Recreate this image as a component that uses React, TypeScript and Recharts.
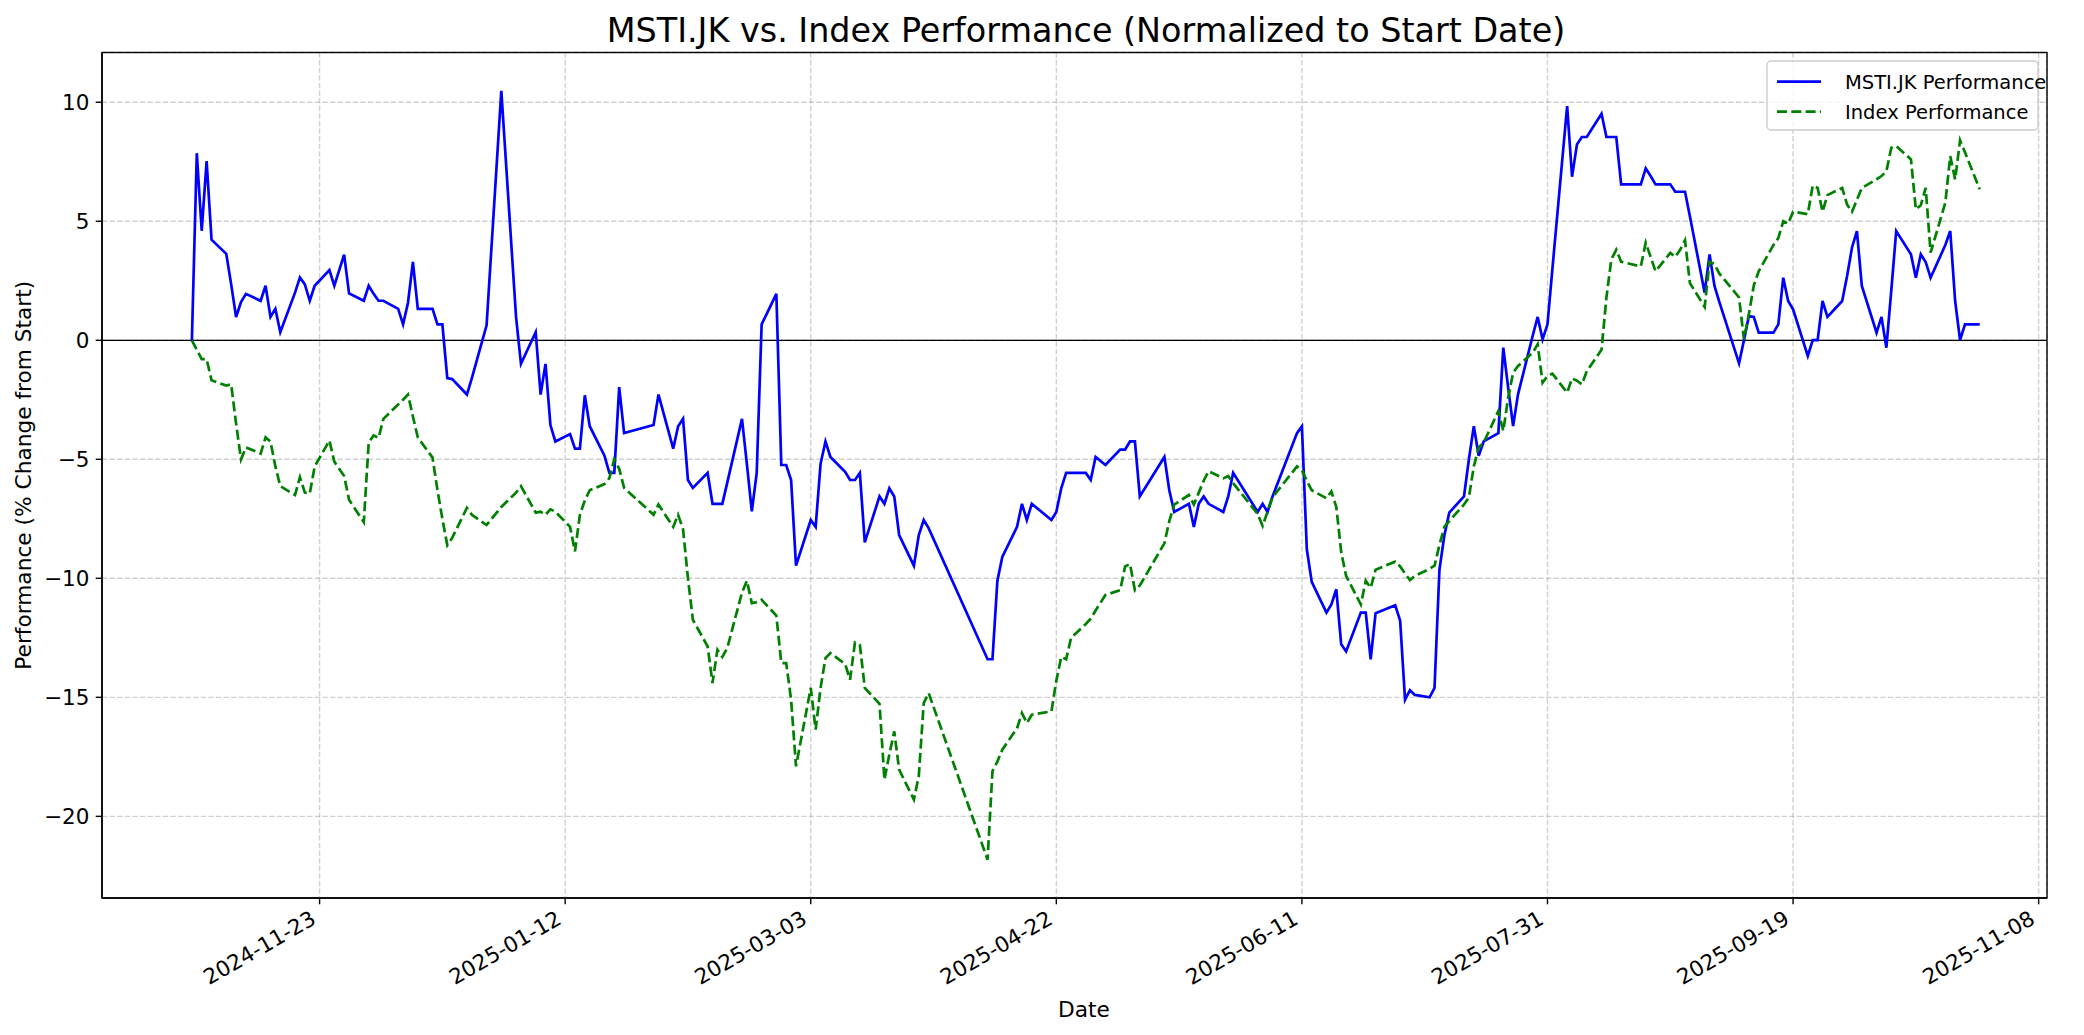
import React from "react";
import {
  LineChart,
  Line,
  XAxis,
  YAxis,
  CartesianGrid,
  ReferenceLine,
} from "recharts";

// trading days (IDX calendar, holidays skipped)
const dates = [
  "2024-10-28", "2024-10-29", "2024-10-30", "2024-10-31",
  "2024-11-01", "2024-11-04", "2024-11-05", "2024-11-06", "2024-11-07", "2024-11-08", "2024-11-11", "2024-11-12", "2024-11-13", "2024-11-14", "2024-11-15", "2024-11-18", "2024-11-19", "2024-11-20", "2024-11-21", "2024-11-22", "2024-11-25", "2024-11-26", "2024-11-28", "2024-11-29",
  "2024-12-02", "2024-12-03", "2024-12-04", "2024-12-05", "2024-12-06", "2024-12-09", "2024-12-10", "2024-12-11", "2024-12-12", "2024-12-13", "2024-12-16", "2024-12-17", "2024-12-18", "2024-12-19", "2024-12-20", "2024-12-23", "2024-12-24", "2024-12-27", "2024-12-30",
  "2025-01-02", "2025-01-03", "2025-01-06", "2025-01-07", "2025-01-08", "2025-01-09", "2025-01-10", "2025-01-13", "2025-01-14", "2025-01-15", "2025-01-16", "2025-01-17", "2025-01-20", "2025-01-21", "2025-01-22", "2025-01-23", "2025-01-24", "2025-01-30", "2025-01-31",
  "2025-02-03", "2025-02-04", "2025-02-05", "2025-02-06", "2025-02-07", "2025-02-10", "2025-02-11", "2025-02-12", "2025-02-13", "2025-02-14", "2025-02-17", "2025-02-18", "2025-02-19", "2025-02-20", "2025-02-21", "2025-02-24", "2025-02-25", "2025-02-26", "2025-02-27", "2025-02-28",
  "2025-03-03", "2025-03-04", "2025-03-05", "2025-03-06", "2025-03-07", "2025-03-10", "2025-03-11", "2025-03-12", "2025-03-13", "2025-03-14", "2025-03-17", "2025-03-18", "2025-03-19", "2025-03-20", "2025-03-21", "2025-03-24", "2025-03-25", "2025-03-26", "2025-03-27",
  "2025-04-08", "2025-04-09", "2025-04-10", "2025-04-11", "2025-04-14", "2025-04-15", "2025-04-16", "2025-04-17", "2025-04-21", "2025-04-22", "2025-04-23", "2025-04-24", "2025-04-25", "2025-04-28", "2025-04-29", "2025-04-30",
  "2025-05-02", "2025-05-05", "2025-05-06", "2025-05-07", "2025-05-08", "2025-05-09", "2025-05-14", "2025-05-15", "2025-05-16", "2025-05-19", "2025-05-20", "2025-05-21", "2025-05-22", "2025-05-23", "2025-05-26", "2025-05-27", "2025-05-28",
  "2025-06-02", "2025-06-03", "2025-06-04", "2025-06-05", "2025-06-10", "2025-06-11", "2025-06-12", "2025-06-13", "2025-06-16", "2025-06-17", "2025-06-18", "2025-06-19", "2025-06-20", "2025-06-23", "2025-06-24", "2025-06-25", "2025-06-26", "2025-06-30",
  "2025-07-01", "2025-07-02", "2025-07-03", "2025-07-04", "2025-07-07", "2025-07-08", "2025-07-09", "2025-07-10", "2025-07-11", "2025-07-14", "2025-07-15", "2025-07-16", "2025-07-17", "2025-07-18", "2025-07-21", "2025-07-22", "2025-07-23", "2025-07-24", "2025-07-25", "2025-07-28", "2025-07-29", "2025-07-30", "2025-07-31",
  "2025-08-01", "2025-08-04", "2025-08-05", "2025-08-06", "2025-08-07", "2025-08-08", "2025-08-11", "2025-08-12", "2025-08-13", "2025-08-14", "2025-08-15", "2025-08-19", "2025-08-20", "2025-08-21", "2025-08-22", "2025-08-25", "2025-08-26", "2025-08-27", "2025-08-28", "2025-08-29",
  "2025-09-01", "2025-09-02", "2025-09-03", "2025-09-04", "2025-09-08", "2025-09-09", "2025-09-10", "2025-09-11", "2025-09-12", "2025-09-15", "2025-09-16", "2025-09-17", "2025-09-18", "2025-09-19", "2025-09-22", "2025-09-23", "2025-09-24", "2025-09-25", "2025-09-26", "2025-09-29", "2025-09-30",
  "2025-10-01", "2025-10-02", "2025-10-03", "2025-10-06", "2025-10-07", "2025-10-08", "2025-10-09", "2025-10-10", "2025-10-13", "2025-10-14", "2025-10-15", "2025-10-16", "2025-10-17", "2025-10-20", "2025-10-21", "2025-10-22", "2025-10-23", "2025-10-24", "2025-10-27",
];

// % change from start
const mstiPerf = [
  0, 7.86, 4.6, 7.53,
  4.23, 3.63, 2.35, 0.98, 1.61, 1.95, 1.66, 2.29, 0.98, 1.32, 0.34, 2.0, 2.64, 2.35, 1.66, 2.29, 2.95, 2.29, 3.6, 1.97,
  1.66, 2.29, 1.95, 1.66, 1.66, 1.32, 0.67, 1.58, 3.29, 1.32, 1.32, 0.67, 0.67, -1.59, -1.63, -2.28, -1.59, 0.63, 10.48,
  0.98, -0.99, 0.34, -2.28, -0.99, -3.56, -4.25, -3.94, -4.55, -4.55, -2.31, -3.61, -4.85, -5.57, -5.57, -1.97, -3.9, -3.56, -2.28,
  -4.55, -3.61, -3.3, -5.87, -6.2, -5.57, -6.87, -6.87, -6.87, -5.98, -3.3, -5.2, -7.19, -5.57, 0.67, 1.95, -5.24, -5.24, -5.87, -9.47,
  -7.55, -7.84, -5.19, -4.25, -4.9, -5.53, -5.87, -5.87, -5.57, -8.49, -6.56, -6.87, -6.22, -6.56, -8.18, -9.47, -8.18, -7.55, -7.89,
  -13.4, -13.4, -10.1, -9.1, -7.84, -6.87, -7.55, -6.87, -7.55, -7.21, -6.22, -5.57, -5.57, -5.57, -5.87, -4.9,
  -5.24, -4.59, -4.59, -4.25, -4.25, -6.56, -4.9, -6.3, -7.21, -6.87, -7.84, -6.87, -6.56, -6.87, -7.21, -6.56, -5.57,
  -7.21, -6.87, -7.21, -6.57, -3.9, -3.61, -8.78, -10.15, -11.44, -11.1, -10.46, -12.77, -13.07, -11.44, -11.44, -13.4, -11.47, -11.13,
  -11.78, -15.1, -14.7, -14.9, -15.0, -14.6, -9.64, -8.2, -7.24, -6.56, -5.0, -3.61, -4.85, -4.25, -3.9, -0.31, -2.0, -3.6, -2.27, 0.2, 0.98, 0.04, 0.67,
  3.0, 9.84, 6.87, 8.23, 8.54, 8.54, 9.52, 8.54, 8.54, 8.54, 6.55, 6.55, 7.22, 6.9, 6.55, 6.55, 6.24, 6.24, 6.24, 5.2,
  2.0, 3.61, 2.28, 1.6, -0.97, 0.0, 1.02, 0.98, 0.32, 0.32, 0.67, 2.63, 1.65, 1.3, -0.66, 0.01, 0.01, 1.65, 0.98, 1.65, 2.7,
  3.9, 4.59, 2.28, 0.32, 0.98, -0.31, 2.1, 4.59, 3.61, 2.63, 3.61, 3.29, 2.63, 4.0, 4.59, 1.65, 0.01, 0.67, 0.67,
];

const indexPerf = [
  0, -0.4, -0.79, -0.79,
  -1.68, -1.9, -1.85, -3.5, -5.0, -4.5, -4.76, -4.08, -4.25, -5.3, -6.13, -6.5, -5.75, -6.4, -6.44, -5.3, -4.21, -5.1, -5.7, -6.7,
  -7.64, -4.3, -4.0, -4.1, -3.3, -2.7, -2.5, -2.28, -3.2, -4.08, -4.93, -6.3, -7.5, -8.61, -8.3, -7.04, -7.33, -7.76, -7.0,
  -6.4, -6.13, -7.24, -7.2, -7.33, -7.1, -7.2, -7.84, -8.87, -7.33, -6.73, -6.3, -6.04, -5.79, -5.0, -5.4, -6.2, -7.33, -6.9,
  -7.84, -7.33, -7.93, -10.0, -11.74, -12.86, -14.4, -13.0, -13.3, -12.93, -10.6, -10.1, -11.04, -11.0, -10.9, -11.57, -13.56, -13.56, -15.1, -17.9,
  -14.6, -16.36, -14.6, -13.35, -13.14, -13.6, -14.26, -12.7, -12.8, -14.6, -15.27, -18.46, -17.4, -16.43, -18.04, -19.3, -18.3, -15.24, -14.82,
  -21.82, -18.1, -17.7, -17.2, -16.3, -15.66, -16.08, -15.73, -15.59, -14.3, -13.3, -13.4, -12.5, -11.92, -11.7, -11.35,
  -10.7, -10.5, -9.5, -9.4, -10.5, -10.3, -8.53, -7.6, -6.9, -6.5, -6.9, -6.4, -5.9, -5.5, -5.8, -5.7, -6.0,
  -7.3, -7.8, -7.2, -6.6, -5.3, -5.45, -5.9, -6.3, -6.64, -6.35, -7.0, -8.9, -9.9, -11.1, -10.1, -10.4, -9.64, -9.3,
  -9.5, -9.8, -10.07, -9.9, -9.6, -9.47, -8.6, -7.84, -7.6, -6.9, -6.6, -5.3, -4.5, -4.3, -2.97, -3.81, -2.4, -1.36, -1.08, -0.52, -0.17, -1.78, -1.5,
  -1.4, -2.2, -1.6, -1.7, -1.85, -1.3, -0.4, 1.8, 3.4, 3.8, 3.3, 3.1, 4.1, 3.5, 2.9, 3.67, 3.5, 3.8, 4.2, 2.4,
  1.4, 3.3, 3.2, 2.8, 1.8, 0.04, 1.1, 2.3, 2.9, 4.0, 4.3, 5.0, 4.9, 5.4, 5.3, 6.5, 6.4, 5.4, 6.1, 6.4, 5.7,
  5.4, 5.9, 6.4, 6.76, 6.9, 7.1, 8.09, 8.16, 7.6, 5.5, 5.67, 6.4, 3.68, 5.78, 7.74, 6.76, 8.4, 7.9, 6.34,
];

const xTickDates = [
  "2024-11-23", "2025-01-12", "2025-03-03", "2025-04-22",
  "2025-06-11", "2025-07-31", "2025-09-19", "2025-11-08",
];
const yTicks = [-20, -15, -10, -5, 0, 5, 10];

const DAY = 86400000;
const toDay = (s: string) => Date.parse(s + "T00:00:00Z") / DAY;
const fmtDay = (v: number) => new Date(Math.round(v) * DAY).toISOString().slice(0, 10);
const fmtNum = (v: number) => (v < 0 ? "\u2212" + Math.abs(v) : String(v));

const rows = dates.map((d, i) => ({ t: toDay(d), msti: mstiPerf[i], index: indexPerf[i] }));
const xTicks = xTickDates.map(toDay);
const xDomain = [toDay("2024-10-09") + 0.7, toDay("2025-11-09") + 0.7];
const yDomain = [-23.43, 12.09];

const FONT = "DejaVu Sans, sans-serif";
const W = 2084;
const H = 1035;
const PLOT = { left: 102, top: 52.5, right: 2047, bottom: 898 };
const TICK_FS = 21.5;
const LABEL_FS = 21.7;
const LEGEND_FS = 19.5;

const DateTick = (props: any) => {
  const { x, y, payload } = props;
  const ax = x - 2.3;
  const ay = y + 18.6;
  return (
    <text
      x={ax}
      y={ay}
      textAnchor="end"
      transform={`rotate(-30 ${ax} ${ay})`}
      fontFamily={FONT}
      fontSize={TICK_FS}
      fill="#000"
    >
      {fmtDay(payload.value)}
    </text>
  );
};

export default function App() {
  return (
    <div style={{ position: "absolute", left: 0, top: 0, width: W, height: H, background: "#fff" }}>
      <LineChart
        width={W}
        height={H}
        data={rows}
        margin={{ top: PLOT.top, right: W - PLOT.right, bottom: 0, left: 0 }}
      >
        <CartesianGrid stroke="#b0b0b0" strokeOpacity={0.6} strokeWidth={1.4} strokeDasharray="5.3 2.3" />
        <XAxis
          dataKey="t"
          type="number"
          domain={xDomain}
          ticks={xTicks}
          allowDataOverflow
          height={H - PLOT.bottom}
          tickSize={6.3}
          tickMargin={0}
          tick={<DateTick />}
          axisLine={{ stroke: "#000", strokeWidth: 1.4 }}
          tickLine={{ stroke: "#000", strokeWidth: 1.4 }}
        />
        <YAxis
          type="number"
          domain={yDomain}
          ticks={yTicks}
          allowDataOverflow
          width={PLOT.left}
          tickSize={6.3}
          tickMargin={6.3}
          tickFormatter={fmtNum}
          tick={{ fill: "#000", fontSize: TICK_FS, fontFamily: FONT }}
          axisLine={{ stroke: "#000", strokeWidth: 1.4 }}
          tickLine={{ stroke: "#000", strokeWidth: 1.4 }}
          label={{
            value: "Performance (% Change from Start)",
            angle: -90,
            position: "insideLeft",
            offset: 23,
            fill: "#000",
            fontSize: LABEL_FS,
            fontFamily: FONT,
            style: { textAnchor: "middle" },
          }}
        />
        <ReferenceLine y={0} stroke="#000" strokeWidth={1.3} />
        <Line
          type="linear"
          dataKey="msti"
          name="MSTI.JK Performance"
          stroke="#0000ff"
          strokeWidth={2.7}
          dot={false}
          isAnimationActive={false}
        />
        <Line
          type="linear"
          dataKey="index"
          name="Index Performance"
          stroke="#008000"
          strokeWidth={2.7}
          strokeDasharray="10 4.3"
          dot={false}
          isAnimationActive={false}
        />
      </LineChart>

      <svg
        width={W}
        height={H}
        style={{ position: "absolute", left: 0, top: 0, pointerEvents: "none" }}
      >
        {/* axes frame */}
        <rect
          x={PLOT.left}
          y={PLOT.top}
          width={PLOT.right - PLOT.left}
          height={PLOT.bottom - PLOT.top}
          fill="none"
          stroke="#000"
          strokeWidth={1.4}
        />
        <text x={1086} y={42} textAnchor="middle" fontFamily={FONT} fontSize={33.4} fill="#000">
          MSTI.JK vs. Index Performance (Normalized to Start Date)
        </text>
        <text x={1084} y={1017} textAnchor="middle" fontFamily={FONT} fontSize={LABEL_FS} fill="#000">
          Date
        </text>
        <rect x={1767} y={61} width={271} height={69} rx={4} fill="#fff" fillOpacity={0.8} stroke="#cccccc" strokeWidth={1.4} />
        <line x1={1777} y1={81.7} x2={1821} y2={81.7} stroke="#0000ff" strokeWidth={2.7} />
        <text x={1845} y={88.6} fontFamily={FONT} fontSize={LEGEND_FS} fill="#000">MSTI.JK Performance</text>
        <line x1={1777} y1={111.7} x2={1821} y2={111.7} stroke="#008000" strokeWidth={2.7} strokeDasharray="10 4.3" />
        <text x={1845} y={118.6} fontFamily={FONT} fontSize={LEGEND_FS} fill="#000">Index Performance</text>
      </svg>
    </div>
  );
}
